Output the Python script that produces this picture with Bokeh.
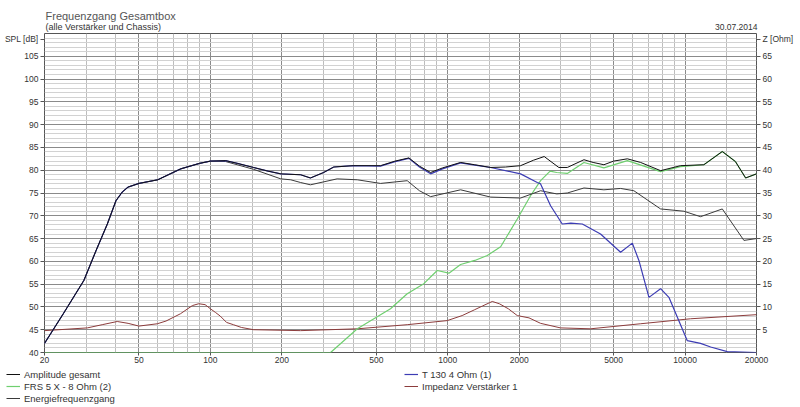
from bokeh.plotting import figure
from bokeh.layouts import column
from bokeh.embed import file_html
from bokeh.resources import INLINE
from bokeh.models import (Plot, Range1d, LinearAxis, FixedTicker, NumeralTickFormatter,
                          Label, Legend, LegendItem)

# ---- data ----
amp_f = [20, 24, 29.3, 33, 36.8, 40, 42.5, 45, 50, 60, 75, 90, 100, 116, 130, 152, 175, 198,
         240, 264, 300, 331, 400, 521, 600, 686, 760, 847, 950, 1133, 1300, 1517, 1750, 2028,
         2300, 2550, 2939, 3190, 3750, 4100, 4551, 5000, 5714, 6500, 7885, 9576, 12000,
         14350, 16300, 18000, 20000]
amp_db = [42.0, 48.5, 55.8, 62.4, 68.2, 73.3, 75.2, 76.3, 77.1, 77.9, 80.3, 81.5, 82.0, 82.1,
          81.5, 80.6, 79.8, 79.2, 79.0, 78.3, 79.5, 80.7, 81.0, 81.0, 82.0, 82.7, 80.9, 79.5,
          80.5, 81.7, 81.2, 80.6, 80.7, 81.0, 82.2, 83.0, 80.6, 80.6, 82.3, 81.7, 81.2, 82.0,
          82.5, 81.7, 79.9, 81.0, 81.2, 84.1, 81.9, 78.3, 79.2]

t130_f = [20, 24, 29.3, 33, 36.8, 40, 42.5, 45, 50, 60, 75, 90, 100, 116, 130, 152, 175, 198,
          240, 264, 300, 331, 400, 521, 600, 686, 760, 847, 950, 1133, 1300, 1517, 2028, 2384,
          2462, 2713, 3038, 3300, 3690, 4405, 5350, 5995, 6390, 7045, 7885, 8550, 10220,
          11620, 12820, 15060, 20000]
t130_db = [42.0, 48.5, 55.8, 62.4, 68.2, 73.3, 75.2, 76.3, 77.1, 77.9, 80.3, 81.5, 82.0, 82.1,
           81.5, 80.6, 79.8, 79.2, 79.0, 78.3, 79.5, 80.7, 81.0, 80.9, 81.9, 82.6, 80.7, 79.2,
           80.3, 81.6, 81.1, 80.6, 79.2, 77.3, 77.0, 72.2, 68.2, 68.4, 68.2, 66.0, 62.0, 64.0,
           60.2, 52.1, 54.0, 52.1, 42.6, 42.0, 41.2, 40.2, 40.0]

frs_f = [20, 321, 416, 574, 675, 793, 903, 1012, 1133, 1300, 1468, 1671, 1964, 2233, 2462,
         2700, 2880, 3190, 3750, 4551, 5714, 7885, 9576, 12000, 14350, 16300, 18000, 20000]
frs_db = [40.0, 40.0, 45.2, 49.6, 52.9, 55.1, 58.0, 57.4, 59.3, 60.2, 61.3, 63.2, 69.3, 74.4,
          77.7, 79.8, 79.5, 79.3, 81.7, 80.5, 82.1, 79.7, 80.8, 81.2, 84.1, 81.9, 78.3, 79.2]

energy_f = [20, 24, 29.3, 33, 36.8, 40, 42.5, 45, 50, 60, 75, 90, 100, 116, 152, 198, 218,
            240, 264, 342, 416, 521, 675, 760, 847, 1133, 1517, 2028, 2462, 2880, 3190, 3750,
            4551, 5350, 6085, 7885, 9890, 11620, 14350, 17700, 20000]
energy_db = [42.0, 48.5, 55.8, 62.4, 68.2, 73.3, 75.2, 76.3, 77.1, 77.9, 80.3, 81.5, 82.0,
             81.9, 80.2, 78.1, 77.9, 77.3, 76.8, 78.1, 77.9, 77.1, 77.7, 75.5, 74.2, 75.7,
             74.1, 73.9, 75.5, 74.8, 75.0, 76.1, 75.7, 76.0, 75.5, 71.5, 71.0, 69.8, 71.5,
             64.6, 65.0]

imp_f = [20, 30.3, 35, 40.5, 45, 50, 59.7, 65, 74.8, 84, 89.3, 95, 100, 105, 110, 117, 125,
         135, 152, 240, 416, 675, 995, 1150, 1300, 1400, 1541, 1650, 1800, 1964, 2200, 2462,
         2987, 3997, 6475, 10550, 20000]
imp_ohm = [4.8, 5.4, 6.1, 6.8, 6.4, 5.8, 6.3, 6.9, 8.5, 10.3, 10.7, 10.5, 9.6, 8.8, 8.0, 6.6,
           6.1, 5.5, 5.0, 4.8, 5.2, 6.1, 7.0, 8.1, 9.4, 10.2, 11.2, 10.7, 9.6, 8.1, 7.6, 6.4,
           5.4, 5.2, 6.3, 7.4, 8.3]

x_major = [20, 50, 100, 200, 500, 1000, 2000, 5000, 10000, 20000]
x_minor = [30, 40, 60, 70, 80, 90, 150, 300, 400, 600, 700, 800, 900, 1500, 3000, 4000,
           6000, 7000, 8000, 9000, 15000]
spl_ticks = list(range(40, 110, 5))
z_ticks = list(range(5, 70, 5))
spl_unit_at, z_unit_at = 108.7, 68.7   # rows where the unit captions sit

FONT = "Liberation Sans"
TXT = "#333333"
W = 800
NO_ALIGN = "frame_align" in Plot.properties()


def blank(height):
    xr = (0, W) if NO_ALIGN else (44, 756)
    f = figure(width=W, height=height, x_range=xr, y_range=Range1d(height, 0),
               x_axis_location=None, y_axis_location=None, output_backend="svg",
               toolbar_location=None, tools="", min_border=0)
    f.grid.visible = False
    f.outline_line_color = None
    if NO_ALIGN:
        f.frame_align = False
    return f


# ---- header: title, subtitle, date ----
head = blank(33)
for x, y, txt, size, align, col in [(45, 15, "Frequenzgang Gesamtbox", "11px", "left", "#555555"),
                                    (45, 26, "(alle Verstärker und Chassis)", "9px", "left", TXT),
                                    (757, 26.5, "30.07.2014", "8.5px", "right", TXT)]:
    head.add_layout(Label(x=x, y=y, text=txt, text_font=FONT, text_font_size=size,
                          text_color=col, text_align=align, text_baseline="alphabetic"))

# ---- main chart ----
p = figure(width=W, height=335, x_axis_type="log", x_range=(20, 20000), y_range=(40, 110),
           output_backend="svg", toolbar_location=None, tools="",
           min_border_left=44, min_border_right=44, min_border_top=0, min_border_bottom=16)
if NO_ALIGN:
    p.frame_align = False
p.extra_y_ranges = {"z": Range1d(0, 70)}
p.outline_line_color = "#555555"

p.xgrid.ticker = FixedTicker(ticks=x_major, minor_ticks=x_minor)
p.xgrid.grid_line_color = "#8a8a8a"
p.xgrid.minor_grid_line_color = "#bdbdbd"
p.ygrid.ticker = FixedTicker(ticks=spl_ticks, minor_ticks=list(range(40, 111)))
p.ygrid.grid_line_color = "#8a8a8a"
p.ygrid.minor_grid_line_color = "#d2d2d2"

p.xaxis.ticker = FixedTicker(ticks=x_major)
p.xaxis.formatter = NumeralTickFormatter(format="0")
p.yaxis.ticker = FixedTicker(ticks=spl_ticks + [spl_unit_at])
p.yaxis.major_label_overrides = {spl_unit_at: "SPL [dB]"}
zax = LinearAxis(y_range_name="z", ticker=FixedTicker(ticks=z_ticks + [z_unit_at]),
                 major_label_overrides={z_unit_at: "Z [Ohm]"})
p.add_layout(zax, "right")
for ax in [p.xaxis[0], p.yaxis[0], zax]:
    ax.axis_line_color = None
    ax.major_tick_line_color = "#555555"
    ax.major_tick_in = 0
    ax.major_tick_out = 4
    ax.minor_tick_line_color = None
    ax.major_label_text_font = FONT
    ax.major_label_text_font_size = "8.5px"
    ax.major_label_text_color = TXT
    ax.major_label_standoff = 1
p.xaxis.major_tick_out = 3
p.yaxis.major_label_standoff = 2

styles = {"amp": dict(color="#111111", line_width=1),
          "frs": dict(color="#6fcf6f", line_width=1.2),
          "en": dict(color="#3a3a3a", line_width=1),
          "t130": dict(color="#3c3cb4", line_width=1.2),
          "imp": dict(color="#8c3c3c", line_width=1)}

p.line(imp_f, imp_ohm, y_range_name="z", **styles["imp"])
p.line(frs_f, frs_db, **styles["frs"])
p.line(energy_f, energy_db, **styles["en"])
p.line(t130_f, t130_db, **styles["t130"])
p.line(amp_f, amp_db, **styles["amp"])

# ---- footer: legend in two columns ----
foot = blank(38)
series = {"amp": (amp_f, amp_db), "frs": (frs_f, frs_db), "en": (energy_f, energy_db),
          "t130": (t130_f, t130_db), "imp": (imp_f, imp_ohm)}
names = [("amp", "Amplitude gesamt"), ("frs", "FRS 5 X - 8 Ohm (2)"),
         ("en", "Energiefrequenzgang"), ("t130", "T 130 4 Ohm (1)"),
         ("imp", "Impedanz Verstärker 1")]
items = []
for key, lbl in names:
    xs, ys = series[key]
    proxy = foot.line(x=xs[:1], y=ys[:1], visible=False, **styles[key])
    items.append(LegendItem(label=lbl, renderers=[proxy]))
leg = Legend(items=items, location=(6, 2), orientation="vertical", nrows=3,
             label_text_font=FONT, label_text_font_size="9.5px", label_text_color=TXT,
             glyph_width=14, glyph_height=12, label_height=12, label_width=380,
             label_standoff=4, spacing=0, padding=0, margin=0, border_line_color=None,
             background_fill_alpha=0)
foot.add_layout(leg)

page = column(head, p, foot, spacing=0)
open("out.html", "w").write(file_html(page, INLINE))
